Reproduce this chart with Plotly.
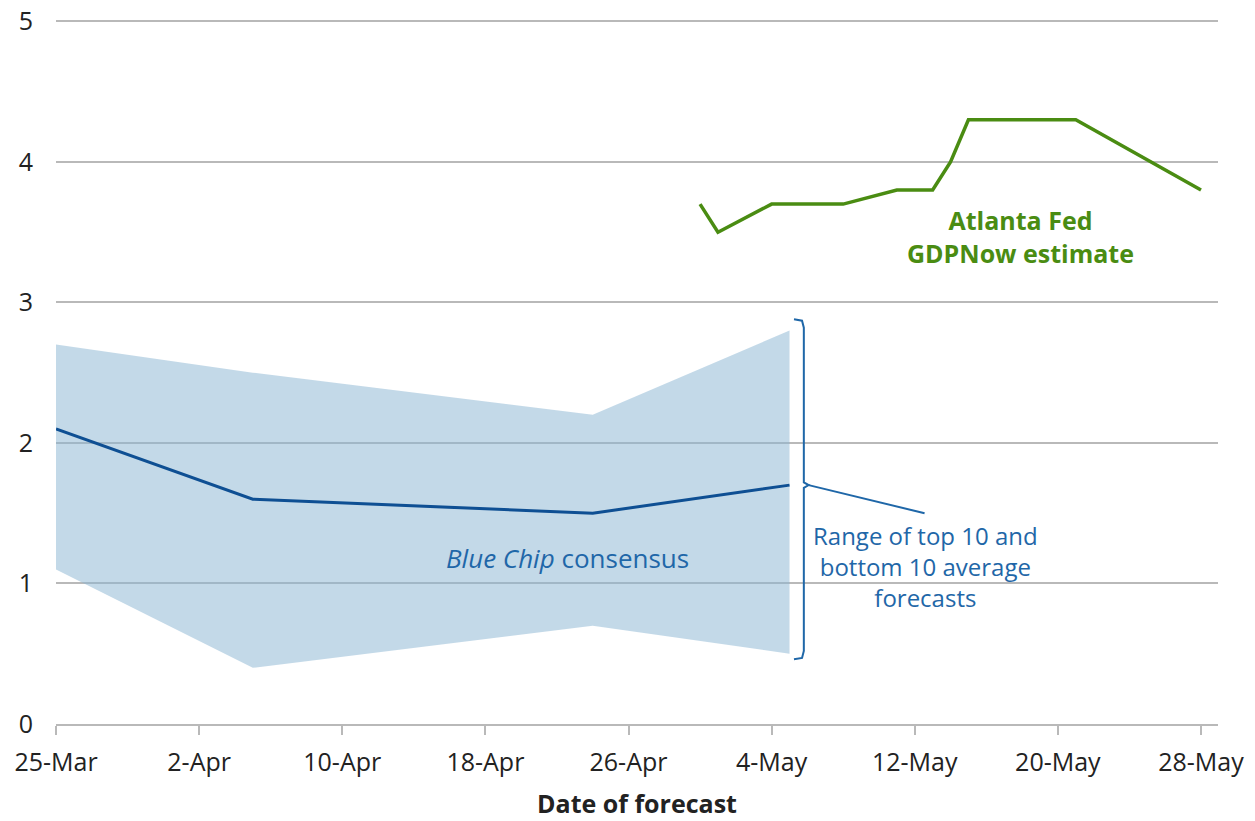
import pandas as pd
import plotly.graph_objects as go

# ---------------- data ----------------
bc_dates = ["2024-03-25", "2024-04-05", "2024-04-24", "2024-05-05"]
bc_consensus = [2.1, 1.6, 1.5, 1.7]
bc_upper = [2.7, 2.5, 2.2, 2.8]
bc_lower = [1.1, 0.4, 0.7, 0.5]

gdp_dates = ["2024-04-30", "2024-05-01", "2024-05-04", "2024-05-08", "2024-05-11",
             "2024-05-13", "2024-05-14", "2024-05-15", "2024-05-21", "2024-05-28"]
gdp_values = [3.7, 3.5, 3.7, 3.7, 3.8, 3.8, 4.0, 4.3, 4.3, 3.8]

tick_dates = ["2024-03-25", "2024-04-02", "2024-04-10", "2024-04-18", "2024-04-26",
              "2024-05-04", "2024-05-12", "2024-05-20", "2024-05-28"]
tick_labels = ["25-Mar", "2-Apr", "10-Apr", "18-Apr", "26-Apr",
               "4-May", "12-May", "20-May", "28-May"]
y_ticks = [0, 1, 2, 3, 4, 5]

# ---------------- styling ----------------
FONT = "Open Sans"
BLUE_LINE = "#0e4f93"
BLUE_TEXT = "#1f67a8"
GREEN = "#4a8c12"
GRID = "#b9b9b9"

base = pd.Timestamp("2024-03-25")


def d(days):
    return base + pd.Timedelta(hours=days * 24)


fig = go.Figure()

# band (range of top 10 and bottom 10)
fig.add_trace(go.Scatter(x=bc_dates, y=bc_lower, mode="lines",
                         line=dict(width=0), hoverinfo="skip", showlegend=False))
fig.add_trace(go.Scatter(x=bc_dates, y=bc_upper, mode="lines", fill="tonexty",
                         fillcolor="rgba(140,182,210,0.52)",
                         line=dict(width=0), hoverinfo="skip", showlegend=False))
# consensus
fig.add_trace(go.Scatter(x=bc_dates, y=bc_consensus, mode="lines",
                         line=dict(color=BLUE_LINE, width=3), showlegend=False))
# GDPNow
fig.add_trace(go.Scatter(x=gdp_dates, y=gdp_values, mode="lines",
                         line=dict(color=GREEN, width=3.5), showlegend=False))

# bracket annotation
br_x, br_top, br_bot, br_mid = 41.8, 2.88, 0.46, 1.70
hook = 0.55
bx = [d(br_x - hook), d(br_x - 0.1), d(br_x), d(br_x), d(br_x + 0.27), d(br_x),
      d(br_x), d(br_x - 0.1), d(br_x - hook)]
by = [br_top, br_top - 0.01, br_top - 0.06, br_mid + 0.02, br_mid, br_mid - 0.02,
      br_bot + 0.06, br_bot + 0.01, br_bot]
fig.add_trace(go.Scatter(x=bx, y=by, mode="lines", line=dict(color=BLUE_TEXT, width=2),
                         hoverinfo="skip", showlegend=False))
fig.add_trace(go.Scatter(x=[d(br_x + 0.27), d(48.55)], y=[br_mid, 1.50], mode="lines",
                         line=dict(color=BLUE_TEXT, width=2),
                         hoverinfo="skip", showlegend=False))

annotations = [
    dict(x=d(28.6), y=1.18, text="<i>Blue Chip</i> consensus", showarrow=False,
         font=dict(family=FONT, size=26, color=BLUE_TEXT), xanchor="center", yanchor="middle"),
    dict(x=d(48.6), y=1.12, text="Range of top 10 and<br>bottom 10 average<br>forecasts",
         showarrow=False, font=dict(family=FONT, size=24, color=BLUE_TEXT),
         xanchor="center", yanchor="middle", align="center"),
    dict(x=d(53.9), y=3.47, text="<b>Atlanta Fed<br>GDPNow estimate</b>", showarrow=False,
         font=dict(family=FONT, size=25, color=GREEN), xanchor="center", yanchor="middle",
         align="center"),
]

fig.update_layout(
    width=1255, height=821,
    margin=dict(l=56, r=37, t=20, b=97),
    paper_bgcolor="white", plot_bgcolor="white",
    font=dict(family=FONT, color="#222222"),
    showlegend=False,
    annotations=annotations,
    xaxis=dict(
        type="date",
        range=[d(0), d(64.95)],
        tickvals=tick_dates, ticktext=tick_labels,
        showgrid=False, zeroline=False,
        showline=True, linecolor=GRID, linewidth=2,
        ticks="outside", ticklen=9, tickwidth=2, tickcolor=GRID,
        tickfont=dict(family=FONT, size=25, color="#222222"),
        ticklabelstandoff=6,
        ticklabeloverflow="allow",
        automargin=False,
        title=dict(text="<b>Date of forecast</b>", font=dict(family=FONT, size=25, color="#222222"),
                   standoff=18),
    ),
    yaxis=dict(
        range=[0, 5.01],
        tickvals=y_ticks,
        showgrid=True, gridcolor=GRID, gridwidth=2,
        zeroline=False, showline=False, ticks="",
        tickfont=dict(family=FONT, size=25, color="#222222"),
        ticklabelstandoff=22,
        ticklabeloverflow="allow",
        automargin=False,
    ),
)

fig.write_html("out.html", config={"displayModeBar": False},
               post_script="document.body.style.margin='0';")
